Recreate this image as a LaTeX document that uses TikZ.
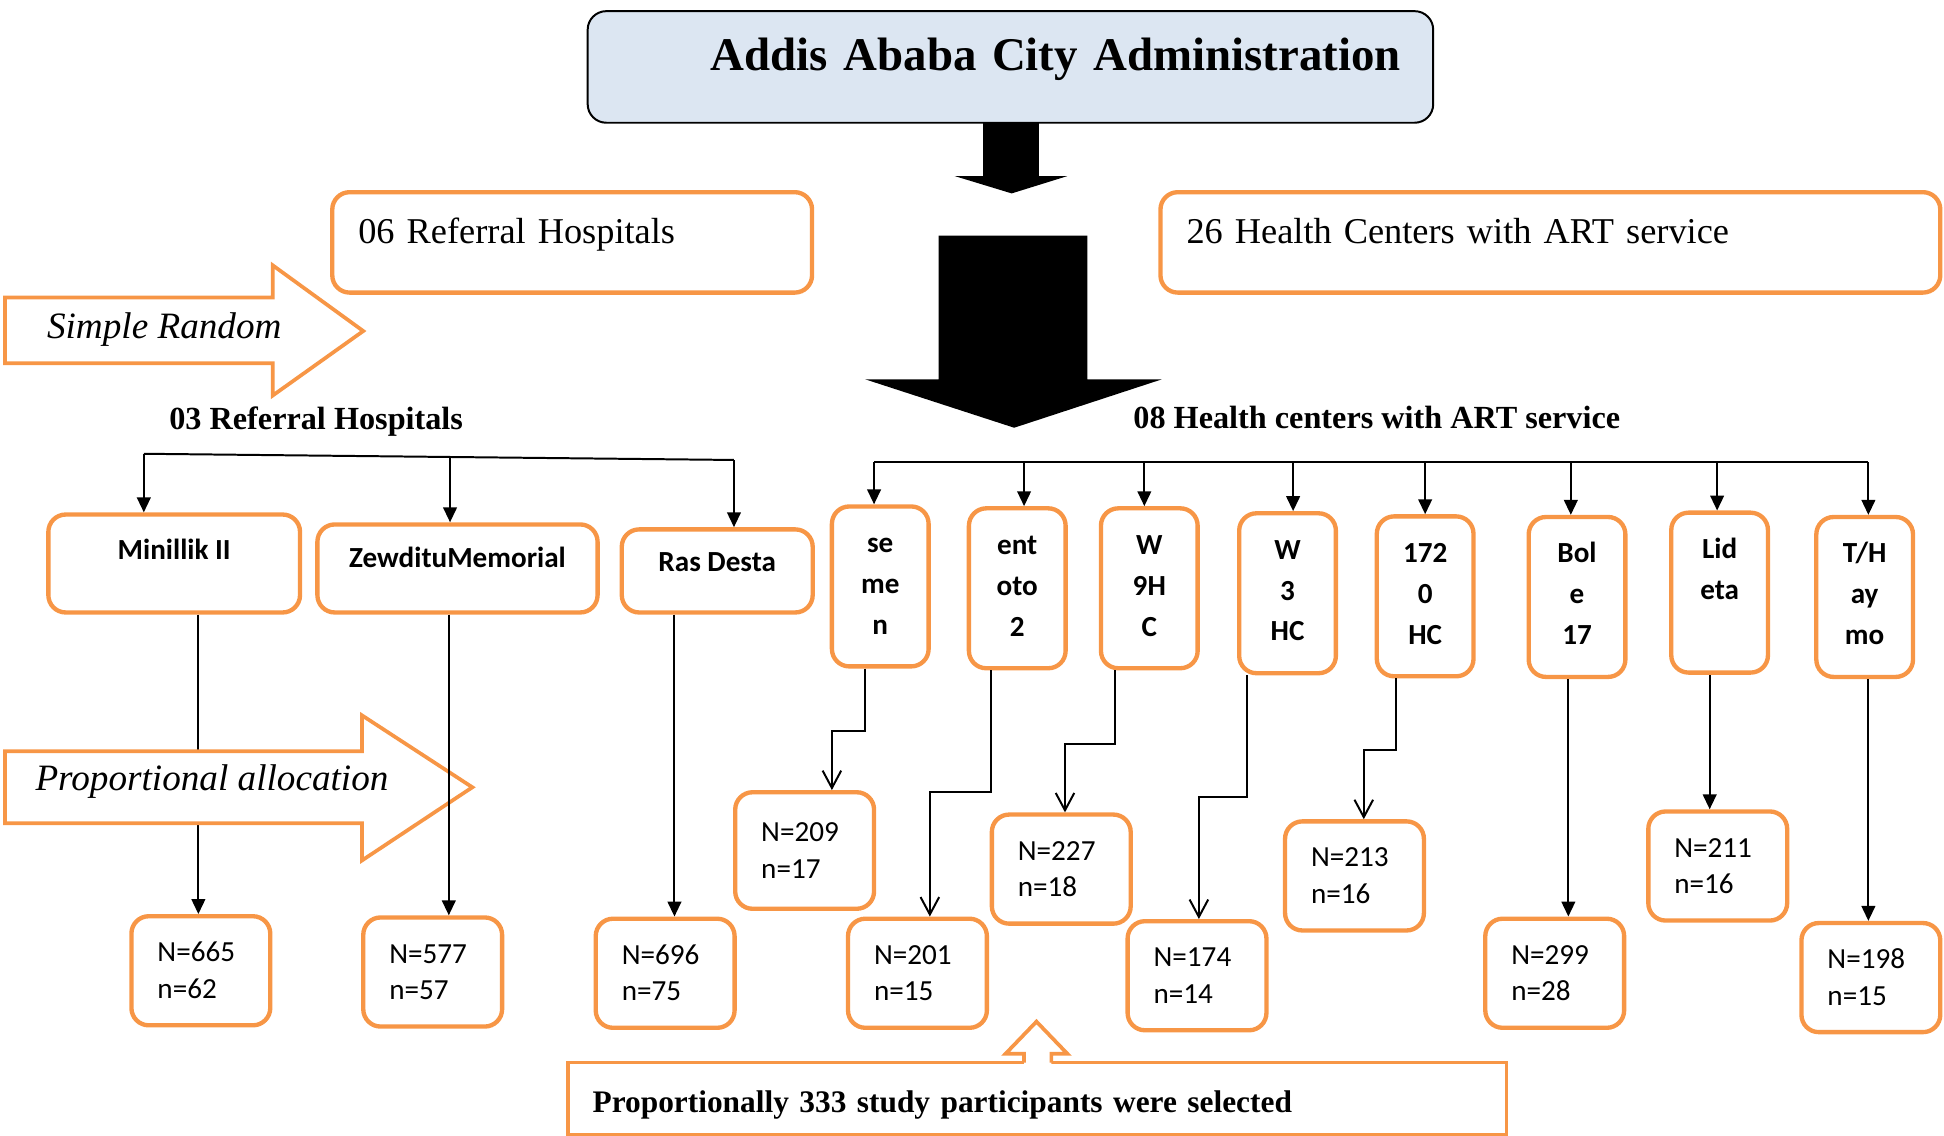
\documentclass[tikz,border=0pt]{standalone}
\usepackage{fontspec}
\setmainfont{Liberation Serif}
\newfontfamily\boxfont{Carlito}
\usetikzlibrary{arrows.meta}
\definecolor{boxorange}{HTML}{F79646}
\definecolor{cityblue}{HTML}{DCE6F2}

\tikzset{
  orangebox/.style={draw=boxorange, line width=3.5pt, rounded corners=14pt, fill=white},
  levelbox/.style={orangebox, text width=#1, inner xsep=21pt, inner ysep=0pt, minimum height=81pt, align=left, text height=20pt, text depth=19pt, font=\fontsize{29.3}{35}\selectfont},
  hospbox/.style={orangebox, inner sep=0pt, text height=15pt, font=\boxfont\bfseries\fontsize{23.5}{27}\selectfont},
  hcbox/.style={orangebox, inner sep=0pt, minimum width=78pt, minimum height=129pt, align=center, text height=81pt, text depth=4pt, font=\boxfont\bfseries\fontsize{23.5}{33}\selectfont},
  countbox/.style={orangebox, text width=70pt, inner xsep=21pt, inner ysep=0pt, minimum height=88pt, align=left, text height=15pt, text depth=29.5pt, font=\boxfont\fontsize{23.5}{29.5}\selectfont},
  link/.style={line width=1.6pt},
  solidtip/.style={link, -{Triangle[length=12pt,width=11pt]}},
  opentip/.style={link, -{Straight Barb[length=14pt,width=15pt]}},
  blockarrow/.style={draw=boxorange, line width=3pt, fill=white},
  headline/.style={font=\bfseries\fontsize{26}{30}\selectfont},
  slanted/.style={font=\itshape\fontsize{30}{36}\selectfont}
}

\begin{document}
\begin{tikzpicture}[x=1pt, y=-1pt]
  \useasboundingbox (0,0) rectangle (1568,916);

  % black block arrows
  \fill (793,99) -- (838,99) -- (838,142) -- (861,142) -- (816,156) -- (770,142) -- (793,142) -- cycle;
  \fill (757,190) -- (877,190) -- (877,306) -- (937,306) -- (818,345) -- (698,306) -- (757,306) -- cycle;

  % top level
  \node[draw, line width=1.6pt, fill=cityblue, rounded corners=15pt, text width=630pt, inner xsep=26pt, inner ysep=0pt, minimum height=90pt, align=right, text height=26pt, text depth=20.5pt, font=\bfseries\fontsize{37.8}{44}\selectfont] (city) at (815,54) {Addis Ababa City Administration};

  \node[levelbox=345pt] (refall) at (461.5,195.5) {06 Referral Hospitals};
  \node[levelbox=587pt] (hcall) at (1250.5,195.5) {26 Health Centers with ART service};

  \draw[blockarrow] (4,240) -- (220,240) -- (220,214) -- (293,267) -- (220,319) -- (220,293) -- (4,293) -- cycle;
  \node[slanted] (simple) at (132.5,266) {Simple Random};

  \node[headline] (refsel) at (255,340) {03 Referral Hospitals};
  \node[headline] (hcsel) at (1110.5,337) {08 Health centers with ART service};

  % hospitals
  \node[hospbox, minimum width=203pt, minimum height=79pt, text depth=22pt] (mini) at (140.5,454.5) {Minillik II};
  \node[hospbox, minimum width=226pt, minimum height=71pt, text depth=16pt] (zewditu) at (369,458.5) {ZewdituMemorial};
  \node[hospbox, minimum width=154pt, minimum height=67pt, text depth=14pt] (rasdesta) at (578.5,460.5) {Ras Desta};

  % health centers
  \node[hcbox] (semen) at (710,473) {se\\me\\n};
  \node[hcbox] (entoto) at (820.5,474.5) {ent\\oto\\2};
  \node[hcbox] (wnine) at (927,474.5) {W\\9H\\C};
  \node[hcbox] (wthree) at (1038.5,478.5) {W\\3\\HC};
  \node[hcbox] (hc1720) at (1149.5,481) {172\\0\\HC};
  \node[hcbox] (bole) at (1272,481.5) {Bol\\e\\17};
  \node[hcbox] (lideta) at (1387,478) {Lid\\eta\\\phantom{e}};
  \node[hcbox] (thaymo) at (1504,481.5) {T/H\\ay\\mo};

  % sample sizes
  \node[countbox] (n665) at (162,783) {N=665\\n=62};
  \node[countbox] (n577) at (349,784) {N=577\\n=57};
  \node[countbox] (n696) at (536.5,785) {N=696\\n=75};
  \node[countbox, minimum height=94pt] (n209) at (649,686) {N=209\\n=17};
  \node[countbox] (n201) at (740,785) {N=201\\n=15};
  \node[countbox] (n227) at (856,701) {N=227\\n=18};
  \node[countbox] (n174) at (965.5,787) {N=174\\n=14};
  \node[countbox] (n213) at (1092.5,706.5) {N=213\\n=16};
  \node[countbox] (n299) at (1254,785) {N=299\\n=28};
  \node[countbox] (n211) at (1385.5,698.5) {N=211\\n=16};
  \node[countbox] (n198) at (1509,788.5) {N=198\\n=15};

  % branching to the hospitals
  \path ([xshift=-24.5]mini.north) coordinate (mini-in)
        ([xshift=-6]zewditu.north) coordinate (zewditu-in)
        ([xshift=13.5]rasdesta.north) coordinate (rasdesta-in);
  \draw[link] (mini-in |- 0,366) -- (rasdesta-in |- 0,371);
  \foreach \h/\y in {mini/366,zewditu/368.5,rasdesta/371}
    \draw[solidtip] (\h-in |- 0,\y) -- (\h-in);

  % branching to the health centers
  \coordinate (rbar) at (0,373);
  \foreach \hc/\dx in {semen/-5,entoto/5.5,wnine/-4,wthree/4.5,hc1720/0,bole/-5,lideta/-2,thaymo/3}
    \path ([xshift=\dx]\hc.north) coordinate (\hc-in);
  \draw[link] (rbar -| semen-in) -- (rbar -| thaymo-in);
  \foreach \hc in {semen,entoto,wnine,wthree,hc1720,bole,lideta,thaymo}
    \draw[solidtip] (rbar -| \hc-in) -- (\hc-in);

  % hospitals to sample sizes
  \path ([xshift=19.5]mini.south) coordinate (mini-out)
        ([xshift=-7]zewditu.south) coordinate (zewditu-out)
        ([xshift=-34.5]rasdesta.south) coordinate (rasdesta-out);
  \draw[solidtip] (mini-out) -- (mini-out |- n665.north);

  \draw[blockarrow] (4,606) -- (292,606) -- (292,577) -- (381,635) -- (292,694) -- (292,664) -- (4,664) -- cycle;
  \node[slanted] (propo) at (171,630) {Proportional allocation};

  \draw[solidtip] (zewditu-out) -- (zewditu-out |- n577.north);
  \draw[solidtip] (rasdesta-out) -- (rasdesta-out |- n696.north);

  % health centers to sample sizes
  \draw[opentip] ([xshift=-12]semen.south) -- ++(0,50) -| ([xshift=22]n209.north);
  \draw[opentip] ([xshift=-21.5]entoto.south) -- ++(0,98) -| ([xshift=10]n201.north);
  \draw[opentip] ([xshift=-28]wnine.south) -- ++(0,59) -| ([xshift=3]n227.north);
  \draw[opentip] ([xshift=-32.5]wthree.south) -- ++(0,98) -| ([xshift=1.5]n174.north);
  \draw[opentip] ([xshift=-23.5]hc1720.south) -- ++(0,58) -| ([xshift=7.5]n213.north);
  \path ([xshift=-7]bole.south) coordinate (bole-out)
        ([xshift=-8]lideta.south) coordinate (lideta-out)
        ([xshift=3]thaymo.south) coordinate (thaymo-out);
  \foreach \hc/\n in {bole/n299,lideta/n211,thaymo/n198}
    \draw[solidtip] (\hc-out) -- (\hc-out |- \n.north);

  % total
  \node[draw=boxorange, line width=3pt, minimum width=757pt, minimum height=58pt, text width=717pt, inner xsep=20pt, inner ysep=0pt, align=left, text height=29pt, text depth=6pt, font=\bfseries\fontsize{25.3}{30}\selectfont] (total) at (836.5,886) {Proportionally 333 study participants were selected};
  \fill[white] (826,859) -- (826,850) -- (811,850) -- (836,824) -- (861,850) -- (848,850) -- (848,859) -- cycle;
  \draw[boxorange, line width=3pt] (826,857) -- (826,850) -- (811,850) -- (836,824) -- (861,850) -- (848,850) -- (848,857);
\end{tikzpicture}
\end{document}
